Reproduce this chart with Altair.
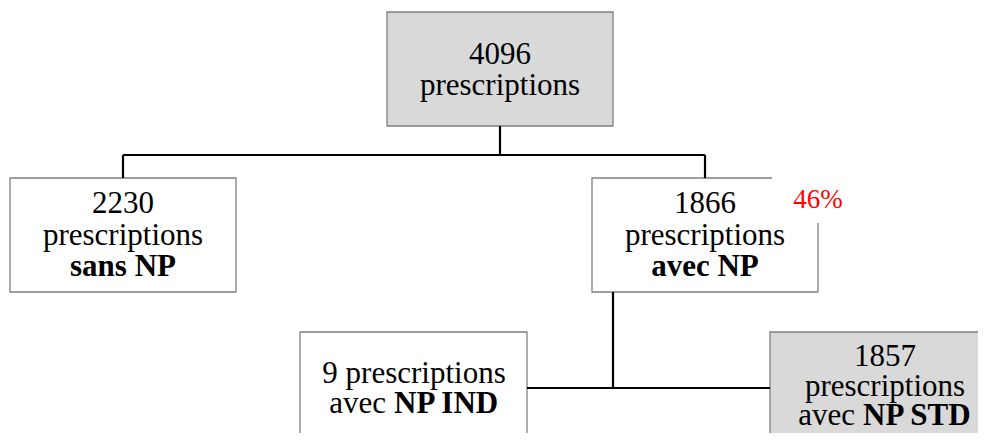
import altair as alt
import pandas as pd

# ---- values ----
counts = [4096, 2230, 1866, 9, 1857]
node_ids = ["total", "sans", "avec", "ind", "std"]
unit_word = "prescriptions"
group_words = ["sans NP", "avec NP"]
sub_prefix = "avec"
sub_words = ["NP IND", "NP STD"]
share_label = f"{round(100 * counts[2] / counts[0])}%"

# ---- layout (page pixel coordinates) ----
W, H, M = 970, 425, 8
boxes = pd.DataFrame({
    "id": node_ids,
    "x1": [387, 10, 592, 300, 770],
    "y1": [12, 178, 178, 332, 332],
    "x2": [613, 236, 818, 527, 1000],
    "y2": [126, 292, 292, 470, 470],
    "fill": ["#d9d9d9", "#ffffff", "#ffffff", "#ffffff", "#d9d9d9"],
})
links = pd.DataFrame({
    "x1": [500, 123, 123, 705, 613, 527],
    "y1": [126, 155, 155, 155, 292, 388],
    "x2": [500, 705, 123, 705, 613, 770],
    "y2": [155, 155, 178, 178, 388, 388],
})
mask = pd.DataFrame({"x1": [772], "y1": [168], "x2": [862], "y2": [223]})

FS = 31
texts = pd.DataFrame([
    # x, y (baseline), text, weight, align, color, size
    (500, 64, str(counts[0]), "normal", "center", "black", FS),
    (500, 95, unit_word, "normal", "center", "black", FS),
    (123, 213, str(counts[1]), "normal", "center", "black", FS),
    (123, 245, unit_word, "normal", "center", "black", FS),
    (123, 276, group_words[0], "bold", "center", "black", FS),
    (705, 213, str(counts[2]), "normal", "center", "black", FS),
    (705, 245, unit_word, "normal", "center", "black", FS),
    (705, 276, group_words[1], "bold", "center", "black", FS),
    (818, 208, share_label, "normal", "center", "#ff0000", 27),
    (414, 383, f"{counts[3]} {unit_word}", "normal", "center", "black", FS),
    (386, 413, sub_prefix, "normal", "right", "black", FS),
    (394, 413, sub_words[0], "bold", "left", "black", FS),
    (885, 366, str(counts[4]), "normal", "center", "black", FS),
    (885, 396, unit_word, "normal", "center", "black", FS),
    (855, 425, sub_prefix, "normal", "right", "black", FS),
    (863, 425, sub_words[1], "bold", "left", "black", FS),
], columns=["x", "y", "text", "weight", "align", "color", "size"])

FONT = "Liberation Serif"

xs = alt.Scale(domain=[M, M + W])
ys = alt.Scale(domain=[M, M + H], reverse=True)
noax = dict(axis=None)

box_layer = alt.Chart(boxes).mark_rect(stroke="#808080", strokeWidth=1.3).encode(
    x=alt.X("x1:Q", scale=xs, **noax), x2="x2:Q",
    y=alt.Y("y1:Q", scale=ys, **noax), y2="y2:Q",
    fill=alt.Fill("fill:N", scale=None),
)
mask_layer = alt.Chart(mask).mark_rect(fill="white").encode(
    x=alt.X("x1:Q", scale=xs, **noax), x2="x2:Q",
    y=alt.Y("y1:Q", scale=ys, **noax), y2="y2:Q",
)
link_layer = alt.Chart(links).mark_rule(color="black", strokeWidth=2.2).encode(
    x=alt.X("x1:Q", scale=xs, **noax), x2="x2:Q",
    y=alt.Y("y1:Q", scale=ys, **noax), y2="y2:Q",
)

text_layers = []
for (weight, align, color, size), grp in texts.groupby(["weight", "align", "color", "size"]):
    text_layers.append(
        alt.Chart(grp).mark_text(
            font=FONT, fontSize=int(size), fontWeight=weight,
            align=align, baseline="alphabetic", color=color,
        ).encode(
            x=alt.X("x:Q", scale=xs, **noax),
            y=alt.Y("y:Q", scale=ys, **noax),
            text="text:N",
        )
    )

chart = alt.layer(box_layer, link_layer, mask_layer, *text_layers).properties(
    width=W, height=H, padding=0, autosize="none", background="white"
).configure_view(strokeWidth=0)

chart.save("out.html", embed_options={"renderer": "svg", "actions": False})
